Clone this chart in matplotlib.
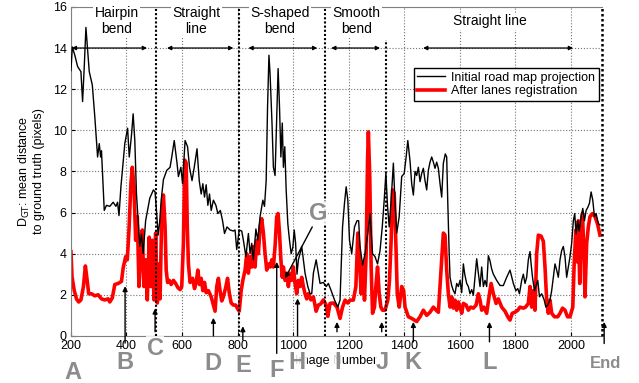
import matplotlib
matplotlib.use("Agg")
import matplotlib.pyplot as plt

plt.rcParams["font.family"] = ["Liberation Sans", "DejaVu Sans"]

# image number / distance (pixels)
black_x = [200, 205, 214, 224, 236, 242, 248, 254, 260, 266, 277, 286, 296, 302, 307, 310,
           320, 328, 340, 352, 362, 368, 373, 380, 394, 404, 410, 418, 424, 430, 436, 442,
           448, 454, 460, 469, 484, 497, 503, 509, 514, 520, 525, 533, 545, 557, 563, 572,
           582, 587, 596, 602, 611, 620, 627, 636, 644, 654, 662, 669, 675, 681, 687, 693,
           699, 705, 713, 722, 729, 738, 746, 753, 762, 773, 785, 791, 797, 806, 815, 821,
           830, 839, 845, 851, 857, 866, 873, 881, 891, 897, 903, 908, 913, 917, 924, 929,
           935, 942, 946, 951, 956, 961, 965, 970, 975, 981, 987, 993, 999, 1004, 1009, 1014,
           1019, 1025, 1031, 1037, 1043, 1053, 1061, 1067, 1073, 1083, 1091, 1097, 1109, 1119,
           1127, 1137, 1149, 1161, 1169, 1178, 1185, 1191, 1197, 1203, 1211, 1221, 1230, 1236,
           1241, 1250, 1259, 1269, 1277, 1286, 1295, 1304, 1313, 1321, 1328, 1334, 1340, 1346,
           1353, 1361, 1367, 1373, 1382, 1391, 1400, 1407, 1413, 1421, 1427, 1433, 1439, 1445,
           1451, 1457, 1463, 1469, 1475, 1481, 1487, 1493, 1499, 1505, 1511, 1517, 1523, 1529,
           1535, 1541, 1548, 1553, 1557, 1562, 1565, 1571, 1577, 1583, 1589, 1595, 1601, 1607,
           1613, 1618, 1625, 1631, 1637, 1643, 1649, 1655, 1661, 1667, 1673, 1679, 1685, 1691,
           1697, 1703, 1709, 1715, 1721, 1733, 1745, 1757, 1769, 1781, 1793, 1802, 1809, 1815,
           1823, 1829, 1835, 1841, 1847, 1853, 1857, 1862, 1869, 1875, 1881, 1887, 1895, 1904,
           1910, 1917, 1925, 1931, 1937, 1943, 1949, 1955, 1961, 1967, 1973, 1979, 1985, 1991,
           1997, 2003, 2009, 2014, 2019, 2025, 2030, 2037, 2043, 2049, 2055, 2061, 2067, 2073,
           2079, 2085, 2091, 2099, 2105]
black_y = [12.9, 14.05, 13.65, 13.1, 12.85, 11.4, 13.1, 15.0, 13.9, 12.85, 12.2, 10.65, 8.7, 9.35, 8.7, 9.0,
           6.1, 6.35, 6.3, 6.5, 6.3, 6.5, 5.85, 7.25, 9.35, 10.1, 8.7, 9.75, 10.8, 9.5, 6.9, 5.6,
           4.35, 4.95, 4.0, 5.6, 6.7, 7.1, 7.0, 5.9, 4.9, 5.6, 6.6, 7.6, 8.05, 8.2, 8.7, 9.5,
           8.4, 7.75, 8.2, 7.4, 9.5, 9.2, 8.2, 7.55, 8.2, 9.1, 7.55, 6.9, 7.4, 6.75, 7.35, 6.35,
           6.9, 6.1, 6.6, 6.35, 5.95, 6.1, 5.6, 4.98, 5.3, 5.15, 5.1, 5.15, 4.2, 5.15, 5.1, 4.65,
           3.85, 4.98, 4.0, 4.5, 3.7, 5.2, 4.65, 5.8, 6.6, 6.3, 7.55, 11.15, 13.65, 12.75, 10.35, 8.2,
           7.8, 11.15, 13.0, 11.15, 8.7, 10.35, 8.2, 9.2, 7.1, 5.45, 4.65, 4.0, 4.3, 5.15, 4.5, 3.0,
           3.7, 4.0, 4.35, 3.7, 3.05, 2.4, 2.05, 2.05, 3.05, 3.7, 3.05, 2.55, 2.6, 2.4,
           2.55, 2.2, 1.75, 1.4, 1.75, 5.3, 6.45, 7.25, 6.6, 4.65, 4.0, 5.3, 5.6, 5.6,
           4.35, 3.45, 4.0, 5.0, 5.95, 4.0, 3.85, 3.5, 4.15, 5.3, 6.6, 7.9, 6.3, 5.3,
           6.6, 8.4, 6.45, 5.0, 5.8, 7.75, 7.9, 8.7, 9.5, 8.5, 7.4, 6.85, 8.0, 7.8,
           8.2, 7.5, 7.9, 8.15, 7.55, 7.1, 8.05, 8.45, 8.7, 8.45, 8.15, 8.45, 8.15, 7.4,
           6.75, 8.4, 8.85, 8.7, 6.45, 4.0, 2.85, 2.45, 2.2, 2.05, 2.55, 2.4, 2.7, 2.1,
           3.5, 3.0, 2.55, 2.4, 2.05, 2.25, 1.98, 2.85, 3.75, 3.05, 2.4, 3.35, 2.4, 2.7,
           2.4, 3.9, 3.65, 3.25, 3.0, 2.7, 2.45, 2.45, 2.85, 3.2, 2.55, 2.2, 2.3, 2.05,
           2.7, 3.0, 2.55, 2.85, 3.7, 4.1, 3.5, 2.85, 2.2, 2.45, 2.7, 1.9, 2.05, 1.75,
           1.4, 1.5, 1.75, 2.2, 2.85, 3.5, 3.2, 2.85, 3.7, 4.15, 4.35, 3.85, 2.85, 3.35,
           3.85, 4.5, 5.6, 5.95, 4.95, 5.6, 5.1, 5.8, 6.2, 5.6, 6.1, 6.25, 6.45, 7.0,
           6.6, 5.8, 5.95, 5.45, 5.4]

red_x = [200, 204, 212, 220, 228, 236, 245, 252, 258, 264, 274, 286, 298, 310, 322, 334,
         340, 349, 358, 370, 382, 388, 397, 403, 409, 416, 421, 427, 433, 439, 445, 451,
         457, 463, 469, 475, 482, 488, 493, 499, 505, 511, 517, 521, 527, 533, 539, 543,
         548, 554, 561, 569, 577, 585, 593, 599, 605, 610, 615, 619, 623, 629, 638, 645,
         651, 657, 663, 669, 675, 681, 687, 695, 705, 713, 719, 725, 731, 737, 743, 749,
         758, 764, 770, 777, 785, 793, 801, 806, 813, 819, 827, 833, 839, 845, 851, 857,
         863, 869, 875, 881, 887, 893, 899, 905, 911, 917, 923, 929, 935, 941, 946, 951,
         956, 961, 965, 971, 977, 983, 989, 995, 1001, 1007, 1013, 1019, 1025, 1031, 1037, 1043,
         1049, 1055, 1064, 1073, 1083, 1091, 1099, 1109, 1119, 1125, 1133, 1145, 1158, 1169, 1178, 1187,
         1197, 1205, 1217, 1226, 1233, 1239, 1245, 1251, 1257, 1263, 1268, 1271, 1276, 1281, 1286, 1293,
         1298, 1304, 1310, 1316, 1322, 1331, 1341, 1347, 1353, 1358, 1364, 1370, 1375, 1382, 1391, 1398,
         1403, 1415, 1427, 1439, 1445, 1457, 1469, 1481, 1493, 1505, 1515, 1523, 1529, 1535, 1541, 1547,
         1553, 1559, 1565, 1571, 1577, 1583, 1589, 1595, 1601, 1607, 1613, 1623, 1631, 1639, 1649, 1659,
         1667, 1673, 1679, 1687, 1697, 1707, 1713, 1721, 1731, 1739, 1751, 1763, 1773, 1781, 1789, 1799,
         1809, 1817, 1829, 1837, 1847, 1853, 1859, 1865, 1871, 1877, 1883, 1893, 1901, 1907, 1913, 1919,
         1925, 1931, 1941, 1953, 1961, 1970, 1979, 1988, 1997, 2007, 2012, 2018, 2023, 2027, 2032, 2037,
         2042, 2047, 2051, 2057, 2063, 2069, 2078, 2087, 2096, 2105]
red_y = [4.1, 2.87, 2.2, 1.8, 1.65, 1.75, 2.4, 3.4, 2.75, 2.05, 2.05, 1.95, 2.0, 1.8, 1.75, 1.8,
         1.65, 1.85, 2.5, 2.55, 2.65, 3.3, 3.85, 3.7, 5.15, 7.4, 8.2, 7.25, 4.65, 5.8, 2.4, 3.85,
         5.15, 2.4, 3.7, 1.75, 4.8, 2.4, 4.65, 1.75, 5.0, 1.6, 3.5, 1.8, 5.95, 6.85, 5.3, 3.2,
         2.6, 2.7, 2.5, 2.7, 2.55, 2.35, 2.25, 2.4, 4.5, 8.55, 8.4, 5.3, 3.5, 2.6, 2.8, 2.3,
         2.6, 3.2, 2.5, 2.8, 2.2, 2.6, 2.1, 2.2, 1.9, 1.5, 1.2, 2.4, 2.8, 2.2, 1.7, 1.9,
         2.4, 2.8, 2.1, 1.6, 1.5, 1.5, 1.3, 1.2, 2.2, 2.7, 3.2, 4.0, 3.05, 3.85, 3.35, 4.35,
         3.35, 4.65, 4.0, 5.3, 5.7, 5.0, 4.0, 3.2, 3.5, 3.35, 3.7, 3.35, 4.35, 5.8, 5.95, 5.0,
         3.7, 2.85, 3.35, 2.7, 3.05, 2.4, 3.05, 2.7, 3.35, 2.55, 2.05, 2.7, 2.4, 2.85, 2.4, 2.05,
         1.8, 2.05, 1.75, 1.9, 1.2, 1.5, 1.55, 1.75, 1.5, 0.95, 1.58, 1.6, 1.4, 0.85, 1.4, 1.74,
         1.6, 1.74, 1.74, 2.4, 5.0, 3.7, 2.05, 3.5, 1.74, 4.0, 8.55, 9.92, 7.75, 3.35, 1.1, 1.4,
         2.4, 3.35, 2.05, 1.4, 1.25, 1.25, 1.74, 2.7, 4.65, 7.1, 6.95, 4.5, 2.05, 1.4, 2.4, 2.2,
         1.4, 0.93, 0.85, 0.75, 0.7, 0.93, 1.25, 1.0, 1.15, 1.4, 1.25, 1.15, 2.4, 3.7, 5.0, 4.9,
         3.2, 2.05, 1.4, 1.9, 1.35, 1.74, 1.25, 1.65, 1.4, 1.1, 1.58, 1.5, 1.25, 1.4, 1.35, 1.5,
         2.05, 1.74, 1.25, 1.4, 1.1, 2.05, 2.55, 2.05, 1.58, 1.8, 1.4, 1.2, 0.93, 0.77, 1.1, 1.15,
         1.25, 1.4, 1.35, 1.4, 1.58, 2.4, 1.4, 2.2, 1.25, 4.0, 4.9, 4.85, 4.6, 3.35, 1.74, 1.1,
         1.74, 1.1, 0.93, 0.93, 1.1, 1.35, 1.25, 0.93, 0.93, 1.4, 3.5, 5.15, 3.6, 5.6, 2.55, 5.1,
         5.95, 4.0, 1.9, 4.5, 5.3, 5.8, 5.95, 5.8, 5.45, 4.9]

# road sections: label, label x, arrow start, arrow end
sections = [("Hairpin\nbend", 364, 203, 474),
            ("Straight\nline", 651, 546, 785),
            ("S-shaped\nbend", 953, 839, 1087),
            ("Smooth\nbend", 1227, 1137, 1313),
            ("Straight line", 1710, 1468, 2008)]
boundaries = [507, 806, 1116, 1334]
boundary_tops = [16, 16, 16, 14.4]

# event markers: letter, text x, text y, arrow x0, y0, x1, y1 (None = no arrow)
markers = [("A", 208, -1.77, None),
           ("B", 395, -1.28, (395, -0.35, 395, 2.42)),
           ("C", 503, -0.6, (503, 0.2, 503, 1.33)),
           ("D", 712, -1.33, (713, 0.0, 713, 0.88)),
           ("E", 820, -1.43, (819, -0.2, 819, 0.47)),
           ("F", 942, -1.67, (941, -0.85, 941, 3.6)),
           ("G", 1090, 5.97, (1069, 5.3, 971, 2.8)),
           ("H", 1015, -1.28, (1016, 0.0, 1016, 1.82)),
           ("I", 1159, -1.28, (1158, 0.2, 1158, 0.68)),
           ("J", 1321, -1.28, (1319, 0.2, 1319, 0.68)),
           ("K", 1432, -1.28, (1433, -0.29, 1433, 0.68)),
           ("L", 1706, -1.28, (1707, -0.29, 1707, 0.68))]

x_right = 2112

fig = plt.figure(figsize=(6.39, 3.83), dpi=100)
ax = fig.add_axes([0.111, 0.123, 0.831, 0.859])

ax.plot(black_x, black_y, color="black", lw=1.0, label="Initial road map projection", zorder=3)
ax.plot(red_x, red_y, color="red", lw=2.6, label="After lanes registration", zorder=2)

ax.set_xlim(200, x_right)
ax.set_ylim(0, 16)
ax.set_xticks(range(200, 2001, 200))
ax.set_yticks(range(0, 17, 2))
ax.tick_params(direction="in", labelsize=9, length=3, pad=3)
ax.grid(True, linestyle=":", color="0.45", lw=0.8)
for side in ["top", "bottom", "left"]:
    ax.spines[side].set_color("0.5")
ax.spines["right"].set_visible(False)

ax.set_xlabel("Image Number", fontsize=9, labelpad=2)
ax.set_ylabel("D$_{\\mathrm{GT}}$: mean distance\nto ground truth (pixels)", fontsize=9)
ax.yaxis.set_label_coords(-0.048, 0.5)

for bx, top in zip(boundaries, boundary_tops):
    ax.plot([bx, bx], [0, top], color="black", lw=1.5, linestyle=(0, (1, 1)), zorder=4)
ax.plot([x_right, x_right], [0, 16], color="black", lw=1.8, linestyle=(0, (1, 1)),
        zorder=4, clip_on=False)

for label, lx, a0, a1 in sections:
    ax.text(lx, 15.3, label, ha="center", va="center", fontsize=10, linespacing=1.15,
            bbox=dict(facecolor="white", edgecolor="none", pad=1), zorder=5, clip_on=False)
    ax.annotate("", xy=(a1, 14), xytext=(a0, 14),
                arrowprops=dict(arrowstyle="<|-|>", color="black", lw=0.9,
                                mutation_scale=6, shrinkA=0, shrinkB=0), zorder=5)

ax.legend(loc="upper right", bbox_to_anchor=(0.994, 0.815), fontsize=9, frameon=True,
          fancybox=False, edgecolor="black", framealpha=1, handlelength=2.2,
          borderpad=0.3, labelspacing=0.15, handletextpad=0.5, borderaxespad=0)

for letter, tx, ty, arrow in markers:
    ax.text(tx, ty, letter, ha="center", va="center", fontsize=17, fontweight="bold",
            color="#8c8c8c", zorder=6, clip_on=False,
            bbox=dict(facecolor="white", edgecolor="none", pad=0.5, alpha=0.85))
    if arrow is not None:
        x0, y0, x1, y1 = arrow
        ax.annotate("", xy=(x1, y1), xytext=(x0, y0), annotation_clip=False,
                    arrowprops=dict(arrowstyle="-|>", color="black", lw=1.0,
                                    mutation_scale=7, shrinkA=0, shrinkB=0), zorder=6)

ax.text(2124, -1.33, "End", ha="center", va="center", fontsize=12, fontweight="bold",
        color="#8c8c8c", zorder=6, clip_on=False)
ax.annotate("", xy=(2120, 0.68), xytext=(2120, -0.37), annotation_clip=False,
            arrowprops=dict(arrowstyle="-|>", color="black", lw=1.0,
                            mutation_scale=7, shrinkA=0, shrinkB=0), zorder=6)

fig.savefig("out.png", dpi=100)
